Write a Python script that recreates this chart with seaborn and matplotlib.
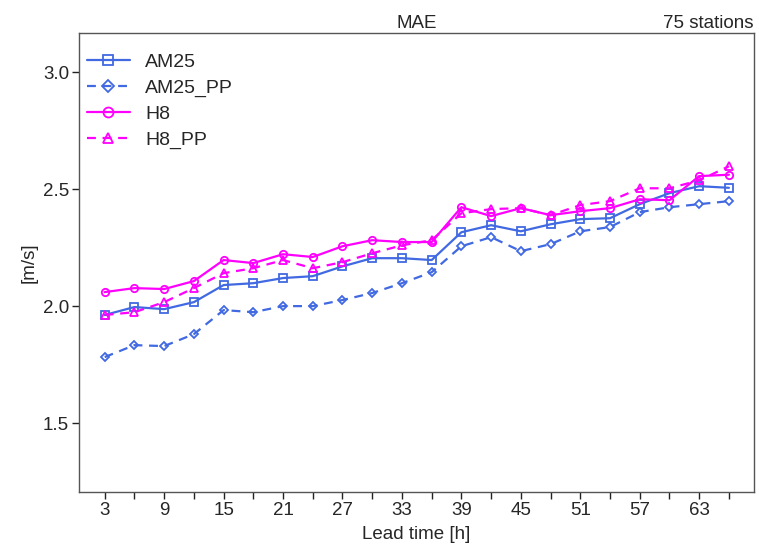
import numpy as np
import pandas as pd
import matplotlib
matplotlib.use("Agg")
import matplotlib.pyplot as plt
import seaborn as sns

# lead times and MAE per model
lead_time = [3, 6, 9, 12, 15, 18, 21, 24, 27, 30, 33, 36, 39, 42, 45, 48, 51, 54, 57, 60, 63, 66]

am25 = [1.962, 1.996, 1.987, 2.017, 2.090, 2.098, 2.120, 2.128, 2.170, 2.205, 2.205, 2.197,
        2.316, 2.346, 2.320, 2.350, 2.372, 2.376, 2.436, 2.483, 2.513, 2.506]
am25_pp = [1.782, 1.833, 1.829, 1.880, 1.983, 1.974, 2.000, 2.000, 2.026, 2.056, 2.098, 2.145,
           2.256, 2.295, 2.235, 2.265, 2.320, 2.338, 2.402, 2.423, 2.436, 2.449]
h8 = [2.060, 2.077, 2.073, 2.107, 2.197, 2.184, 2.222, 2.210, 2.256, 2.282, 2.274, 2.274,
      2.423, 2.385, 2.419, 2.389, 2.406, 2.419, 2.457, 2.453, 2.556, 2.562]
h8_pp = [1.962, 1.974, 2.017, 2.077, 2.141, 2.162, 2.197, 2.162, 2.188, 2.226, 2.260, 2.282,
         2.397, 2.415, 2.419, 2.389, 2.432, 2.449, 2.504, 2.504, 2.538, 2.598]

models = ["AM25", "AM25_PP", "H8", "H8_PP"]
series = [am25, am25_pp, h8, h8_pp]

df = pd.DataFrame({
    "lead": lead_time * len(models),
    "mae": np.concatenate(series),
    "model": np.repeat(models, len(lead_time)),
})

sns.set_style("white")
plt.rcParams["font.family"] = ["Liberation Sans", "DejaVu Sans"]

styles = {
    "AM25": dict(color="#4169E1", marker="s", ls="-"),
    "AM25_PP": dict(color="#4169E1", marker="D", ls=(0, (4, 3))),
    "H8": dict(color="#FF00FF", marker="o", ls="-"),
    "H8_PP": dict(color="#FF00FF", marker="^", ls=(0, (4, 3))),
}

fig = plt.figure(figsize=(7.59, 5.5), dpi=100)
ax = fig.add_axes([0.104, 0.1055, 0.889, 0.834])

for m in models:
    s = styles[m]
    ms = 4.5 if s["marker"] == "D" else 5.3
    sns.lineplot(data=df[df.model == m], x="lead", y="mae", ax=ax, label=m,
                 color=s["color"], marker=s["marker"], linestyle=s["ls"],
                 markersize=ms, markerfacecolor="none", markeredgecolor=s["color"],
                 markeredgewidth=1.3, linewidth=1.6)

ax.set_xlim(0.4, 68.5)
ax.set_ylim(1.205, 3.167)
ax.set_xticks(lead_time)
ax.set_xticklabels([str(t) if i % 2 == 0 else "" for i, t in enumerate(lead_time)])
ax.set_yticks([1.5, 2.0, 2.5, 3.0])
ax.tick_params(axis="both", direction="out", length=5, width=1, color="#222222",
               labelsize=13.5, pad=2, bottom=True, left=True)

for sp in ax.spines.values():
    sp.set_color("#555555")
    sp.set_linewidth(1.0)

ax.set_xlabel("Lead time [h]", fontsize=13.5, labelpad=5)
ax.set_ylabel("[m/s]", fontsize=13.5, labelpad=4)
ax.set_title("MAE", fontsize=13.5, pad=4)
ax.set_title("75 stations", fontsize=13.5, loc="right", pad=4)

leg = ax.legend(loc="upper left", frameon=False, fontsize=14, handlelength=2.2,
                handletextpad=0.8, labelspacing=0.42, borderaxespad=0.0,
                borderpad=0.0, markerscale=1.35, bbox_to_anchor=(0.012, 0.956))

fig.savefig("out.png", dpi=100)
